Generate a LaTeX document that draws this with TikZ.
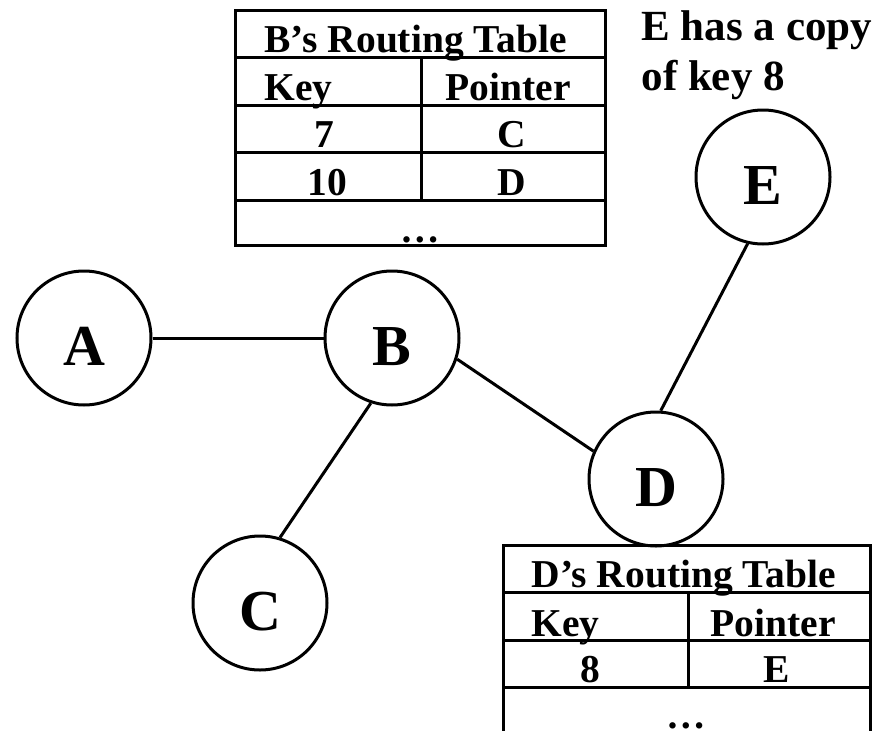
\documentclass[tikz,border=0pt]{standalone}
\usepackage{fontspec}
\setmainfont{Liberation Serif}
\begin{document}
\begin{tikzpicture}[x=1pt,y=-1pt,
  line width=3pt,
  peer/.style={draw, circle, minimum size=134pt, inner sep=0pt,
    font=\fontsize{58}{62}\selectfont\bfseries, text height=54pt, text depth=0pt},
  link/.style={line width=3pt},
  cell/.style={inner sep=0pt, font=\fontsize{39.5}{44}\selectfont\bfseries},
  note/.style={inner sep=0pt, font=\fontsize{43}{50}\selectfont\bfseries}]
\useasboundingbox (0,0) rectangle (881,731);
\clip (0,0) rectangle (881,731);

% peers
\node[peer] (A) at (84,338) {A};
\node[peer] (B) at (392,338) {B};
\node[peer] (C) at (260,603) {C};
\node[peer] (D) at (656,479) {D};
\node[peer] (E) at (763,177) {E};

% overlay links
\draw[link] (A) -- (B);
\draw[link] (B.252) -- (C.73);
\draw[link] (B.342) -- (D.156);
\draw[link] (D.86) -- (E.257);

% routing table of B
\draw (235,10) rectangle (605,245);
\draw (235,57) -- (605,57);
\draw (235,105) -- (605,105);
\draw (235,152) -- (605,152);
\draw (235,200) -- (605,200);
\draw (421,57) -- (421,200);
\node[cell, anchor=base west] (bt) at (263,52) {B’s Routing Table};
\node[cell, anchor=base west] (bk) at (263,100) {Key};
\node[cell, anchor=base] (bp) at (508,100) {Pointer};
\node[cell, anchor=base] (bk1) at (324,147) {7};
\node[cell, anchor=base] (bp1) at (512,147) {C};
\node[cell, anchor=base] (bk2) at (327,195) {10};
\node[cell, anchor=base] (bp2) at (512,195) {D};
\node[cell, anchor=base] (bm) at (420,242) {…};

% routing table of D
\draw (503,545) rectangle (870,790);
\draw (503,592) -- (870,592);
\draw (503,640) -- (870,640);
\draw (503,687) -- (870,687);
\draw (688,592) -- (688,687);
\node[cell, anchor=base west] (dt) at (530,587) {D’s Routing Table};
\node[cell, anchor=base west] (dk) at (530,636) {Key};
\node[cell, anchor=base] (dp) at (773,636) {Pointer};
\node[cell, anchor=base] (dk1) at (590,682) {8};
\node[cell, anchor=base] (dp1) at (777,682) {E};
\node[cell, anchor=base] (dm) at (686,728) {…};

% note on the replica
\node[note, anchor=base west] (n1) at (640,40) {E has a copy};
\node[note, anchor=base west] (n2) at (640,90) {of key 8};
\end{tikzpicture}
\end{document}
